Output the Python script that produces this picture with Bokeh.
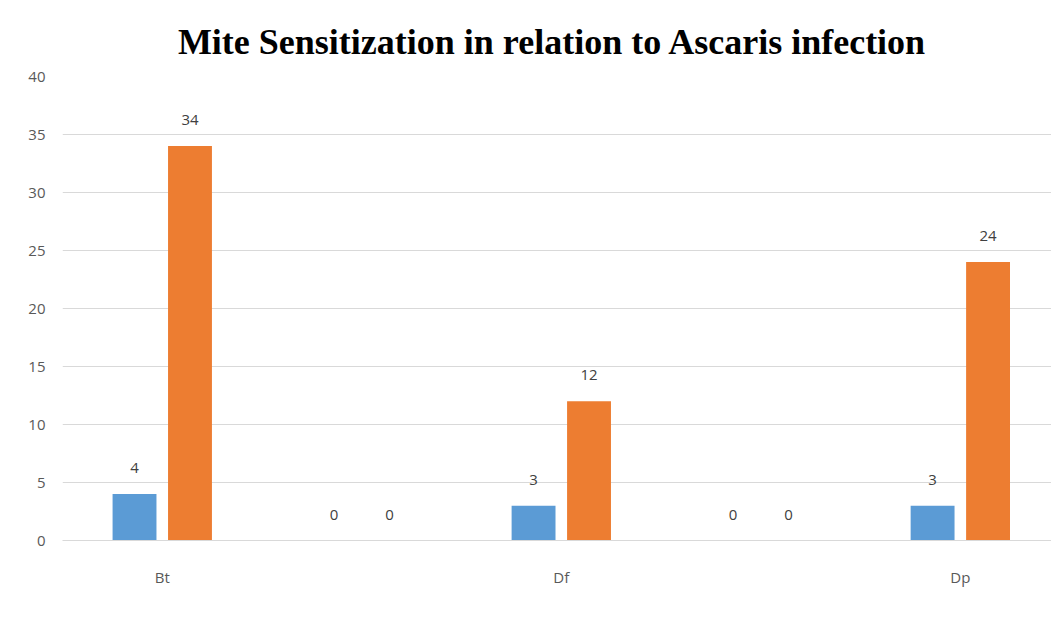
from bokeh.plotting import figure
from bokeh.models import ColumnDataSource, Range1d, FixedTicker, LabelSet, Legend, LegendItem
from bokeh.core.properties import value
from bokeh.transform import dodge
from bokeh.embed import file_html
from bokeh.resources import INLINE

# ---- data ----
title_text = "Mite Sensitization in relation to  Ascaris infection"
categories = ["Bt", "", "Df", "", "Dp"]
as_pos = [4, 0, 3, 0, 3]
as_neg = [34, 0, 12, 0, 24]
series_names = ["As +ve", "As -ve"]
y_ticks = [0, 5, 10, 15, 20, 25, 30, 35, 40]

x = list(range(len(categories)))
src = ColumnDataSource(dict(
    x=x, pos=as_pos, neg=as_neg,
    pos_lbl=[str(v) for v in as_pos],
    neg_lbl=[str(v) for v in as_neg],
))

p = figure(frame_width=989, frame_height=464, output_backend="svg", toolbar_location=None,
           x_range=Range1d(-0.5, 4.457), y_range=Range1d(0, 40),
           min_border_left=62, min_border_right=0, min_border_top=76, min_border_bottom=92,
           background_fill_color="white", border_fill_color="white")

p.title.text = title_text
p.title.align = "center"
p.title.text_font = "Liberation Serif"
p.title.text_font_size = "36px"
p.title.text_font_style = "bold"
p.title.text_color = "black"
p.title.standoff = 30

p.outline_line_color = None
p.xgrid.visible = False
p.ygrid.grid_line_color = "#d9d9d9"
p.ygrid.grid_line_width = 1

p.yaxis.ticker = FixedTicker(ticks=y_ticks)
p.yaxis.axis_line_color = None
p.yaxis.major_tick_line_color = None
p.yaxis.minor_tick_line_color = None
p.yaxis.major_label_text_font = "Open Sans"
p.yaxis.major_label_text_font_size = "15px"
p.yaxis.major_label_text_color = "#595959"
p.yaxis.major_label_standoff = 11

p.xaxis.ticker = FixedTicker(ticks=x)
p.xaxis.major_label_overrides = {i: c for i, c in zip(x, categories)}
p.xaxis.axis_line_color = "#d9d9d9"
p.xaxis.major_tick_line_color = None
p.xaxis.minor_tick_line_color = None
p.xaxis.major_label_text_font = "Open Sans"
p.xaxis.major_label_text_font_size = "15px"
p.xaxis.major_label_text_color = "#595959"
p.xaxis.major_label_standoff = 20

off = 0.139
r1 = p.vbar(x=dodge("x", -off), top="pos", width=0.22, source=src,
            fill_color="#5B9BD5", line_color=None)
r2 = p.vbar(x=dodge("x", off), top="neg", width=0.22, source=src,
            fill_color="#ED7D31", line_color=None)

for col, lbl, d in [("pos", "pos_lbl", -off), ("neg", "neg_lbl", off)]:
    p.add_layout(LabelSet(x=dodge("x", d), y=col, text=lbl, source=src,
                          text_align="center", text_baseline="middle", y_offset=26,
                          text_font=value("Open Sans"), text_font_size="15px",
                          text_color="#404040"))

legend = Legend(items=[LegendItem(label=series_names[0], renderers=[r1]),
                       LegendItem(label=series_names[1], renderers=[r2])],
                orientation="horizontal", location=(372, -90),
                glyph_width=10, glyph_height=10, spacing=22, label_standoff=6,
                label_text_font="Liberation Serif", label_text_font_style="bold",
                label_text_font_size="18px", label_text_color="#222222",
                border_line_color=None, background_fill_alpha=0, margin=0, padding=0)
p.add_layout(legend, "center")

open("out.html", "w").write(file_html(p, INLINE))
